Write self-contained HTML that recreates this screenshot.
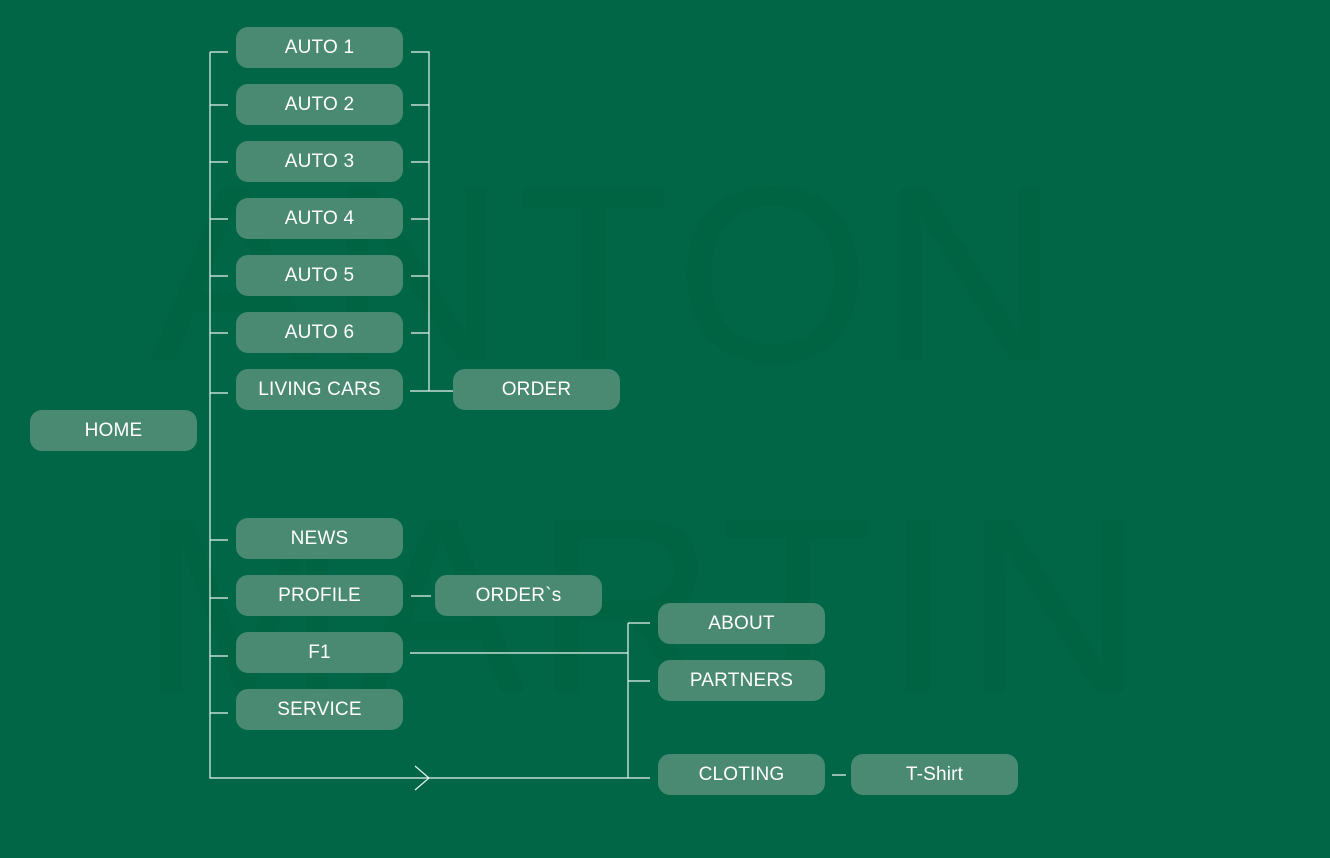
<!DOCTYPE html>
<html><head><style>
body{margin:0;width:1330px;height:858px;background:#006646;overflow:hidden;position:relative;font-family:"Liberation Sans",sans-serif}
.n{position:absolute;width:167px;height:41px;border-radius:12px;background:#4a8a73;color:#fff;font-size:19px;display:flex;align-items:center;justify-content:center;letter-spacing:0.2px}
.w{position:absolute;color:#006342;font-size:250px;font-weight:400;letter-spacing:10px;line-height:1}
</style></head><body>
<div class="w" style="left:150px;top:150px">ANTON</div>
<div class="w" style="left:140px;top:480px">MARTIN</div>
<svg width="1330" height="858" style="position:absolute;left:0;top:0" fill="none" stroke="#e8f3ee" stroke-width="1.2">
<path d="M210 52V778H628M210 52H228M210 105H228M210 162H228M210 219H228M210 276H228M210 333H228M210 393H228M210 540H228M210 598H228M210 656H228M210 713H228"/>
<path d="M415 766L429 778L415 790"/>
<path d="M411 52H429V391M411 105H429M411 162H429M411 219H429M411 276H429M411 333H429M410 391H453"/>
<path d="M411 596H431M410 653H628M628 623V778M628 623H650M628 681H650M628 778H650M832 775H846"/>
</svg>
<div class="n" style="left:236px;top:27px">AUTO 1</div>
<div class="n" style="left:236px;top:84px">AUTO 2</div>
<div class="n" style="left:236px;top:141px">AUTO 3</div>
<div class="n" style="left:236px;top:198px">AUTO 4</div>
<div class="n" style="left:236px;top:255px">AUTO 5</div>
<div class="n" style="left:236px;top:312px">AUTO 6</div>
<div class="n" style="left:236px;top:369px">LIVING CARS</div>
<div class="n" style="left:453px;top:369px">ORDER</div>
<div class="n" style="left:30px;top:410px">HOME</div>
<div class="n" style="left:236px;top:518px">NEWS</div>
<div class="n" style="left:236px;top:575px">PROFILE</div>
<div class="n" style="left:435px;top:575px">ORDER`s</div>
<div class="n" style="left:236px;top:632px">F1</div>
<div class="n" style="left:236px;top:689px">SERVICE</div>
<div class="n" style="left:658px;top:603px">ABOUT</div>
<div class="n" style="left:658px;top:660px">PARTNERS</div>
<div class="n" style="left:658px;top:754px">CLOTING</div>
<div class="n" style="left:851px;top:754px">T-Shirt</div>
</body></html>
